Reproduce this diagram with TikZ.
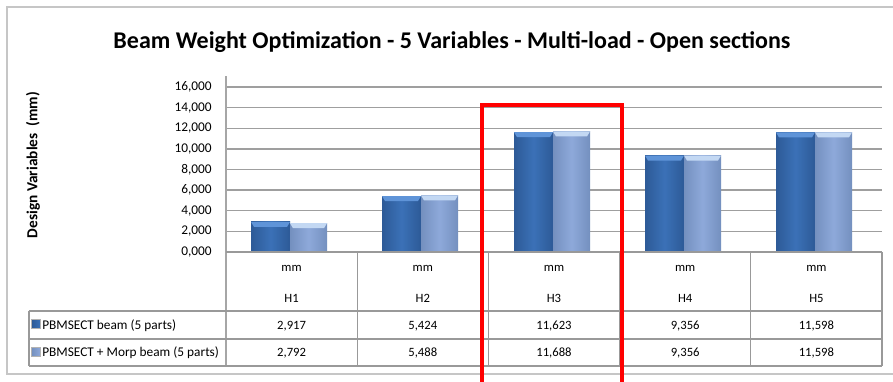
\documentclass[tikz,border=0pt]{standalone}
\usepackage{fontspec}
\setmainfont{Carlito}
\usepackage{tikz}
\usetikzlibrary{
    positioning,
    calc,
}

\definecolor{barDark}{HTML}{3B71B7}
\definecolor{barDarkEdge}{HTML}{2D5A97}
\definecolor{barDarkTop}{HTML}{5F94D8}
\definecolor{barLight}{HTML}{8EA9DA}
\definecolor{barLightEdge}{HTML}{7490BF}
\definecolor{barLightTop}{HTML}{C3D8F3}

\begin{document}
\begin{tikzpicture}[
    x=0.75pt, y=-0.75pt,
    gridline/.style={draw=gray!75, line width=1pt},
    tablerule/.style={draw=gray!80, line width=0.8pt},
    ticklabel/.style={anchor=east, inner sep=0pt, font=\fontsize{10}{12}\selectfont},
    cell/.style={inner sep=0pt, font=\fontsize{9.5}{11}\selectfont},
    legendtext/.style={anchor=west, inner sep=0pt, font=\fontsize{10}{12}\selectfont},
    legendkey/.style={draw=gray!60, line width=0.3pt, minimum size=6.5pt, inner sep=0pt},
    darkbar/.style={left color=barDarkEdge, right color=barDarkEdge, middle color=barDark,
    path picture={\fill[barDarkTop] (path picture bounding box.north west) --
    (path picture bounding box.north east) -- ++(-3,5) --
    ($(path picture bounding box.north west)+(3,5)$) -- cycle;}},
    lightbar/.style={left color=barLightEdge, right color=barLightEdge, middle color=barLight,
    path picture={\fill[barLightTop] (path picture bounding box.north west) --
    (path picture bounding box.north east) -- ++(-3,5) --
    ($(path picture bounding box.north west)+(3,5)$) -- cycle;}},
]

\useasboundingbox (0,0) rectangle (893,382);
\fill[white] (0,0) rectangle (893,382);

% FRAME
\draw[gray!45, line width=1pt] (7,7) rectangle (910,374);

% TITLE
\node[font=\bfseries\fontsize{18}{22}\selectfont] at (452,42) (title)
    {Beam Weight Optimization - 5 Variables - Multi-load - Open sections};

% Y AXIS
\node[rotate=90, font=\bfseries\fontsize{11.5}{13}\selectfont] at (33,165) (ylabel)
    {Design Variables~ (mm)};
\foreach \v in {2,4,...,16}
    \draw[gridline] (226,{252-\v*10.3125}) -- (882,{252-\v*10.3125});
\foreach \v in {0,2,...,16}
    \node[ticklabel] at (212,{252-\v*10.3125}) (tick\v) {\v,000};
\draw[gray!70, line width=1.2pt] (226,76) -- (226,366);

% BARS H1
\fill[darkbar] (251,252) rectangle (290,{252-2.917*10.3125});
\fill[lightbar] (290,252) rectangle (327,{252-2.792*10.3125});

% BARS H2
\fill[darkbar] (382,252) rectangle (421,{252-5.424*10.3125});
\fill[lightbar] (421,252) rectangle (458,{252-5.488*10.3125});

% BARS H3
\fill[darkbar] (514,252) rectangle (553,{252-11.623*10.3125});
\fill[lightbar] (553,252) rectangle (590,{252-11.688*10.3125});

% BARS H4
\fill[darkbar] (645,252) rectangle (684,{252-9.356*10.3125});
\fill[lightbar] (684,252) rectangle (721,{252-9.356*10.3125});

% BARS H5
\fill[darkbar] (776,252) rectangle (815,{252-11.598*10.3125});
\fill[lightbar] (815,252) rectangle (852,{252-11.598*10.3125});

% DATA TABLE
\draw[tablerule] (226,252) -- (882,252);
\draw[tablerule] (29,311) -- (882,311);
\draw[tablerule] (29,339) -- (882,339);
\draw[tablerule] (29,366) -- (882,366);
\draw[tablerule] (29,311) -- (29,366);
\foreach \x in {357.2,488.4,619.6,750.8,882}
    \draw[tablerule] (\x,252) -- (\x,366);

% HEADER
\node[cell] at (291.6,268) (unit1) {mm};
\node[cell] at (422.8,268) (unit2) {mm};
\node[cell] at (554.0,268) (unit3) {mm};
\node[cell] at (685.2,268) (unit4) {mm};
\node[cell] at (816.4,268) (unit5) {mm};
\node[cell] at (291.6,298) (var1) {H1};
\node[cell] at (422.8,298) (var2) {H2};
\node[cell] at (554.0,298) (var3) {H3};
\node[cell] at (685.2,298) (var4) {H4};
\node[cell] at (816.4,298) (var5) {H5};

% LEGEND
\node[legendkey, left color=barDarkEdge, right color=barDark] at (36,324) (key1) {};
\node[legendkey, left color=barLightEdge, right color=barLight] at (36,352) (key2) {};
\node[legendtext] at (42,326) (series1) {PBMSECT beam (5 parts)};
\node[legendtext] at (42,353) (series2) {PBMSECT + Morp beam (5 parts)};

% PBMSECT ROW
\node[cell] at (291.6,326) (a1) {2,917};
\node[cell] at (422.8,326) (a2) {5,424};
\node[cell] at (554.0,326) (a3) {11,623};
\node[cell] at (685.2,326) (a4) {9,356};
\node[cell] at (816.4,326) (a5) {11,598};

% MORP ROW
\node[cell] at (291.6,353) (b1) {2,792};
\node[cell] at (422.8,353) (b2) {5,488};
\node[cell] at (554.0,353) (b3) {11,688};
\node[cell] at (685.2,353) (b4) {9,356};
\node[cell] at (816.4,353) (b5) {11,598};

% HIGHLIGHT H3
\draw[red, line width=3pt] (482,400) -- (482,105) -- (622,105) -- (622,400);

\end{tikzpicture}
\end{document}
